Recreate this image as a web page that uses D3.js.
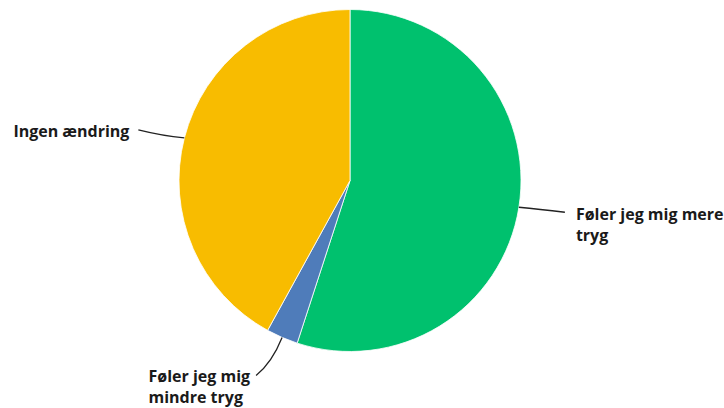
<!DOCTYPE html>
<html><head><meta charset="utf-8">
<script src="https://cdn.jsdelivr.net/npm/d3@7"></script>
<style>body{margin:0;background:#fff}text{font-family:"Open Sans",sans-serif;font-weight:700;fill:#1a1a1a}</style>
</head><body>
<svg id="c" width="724" height="408"></svg>
<script>
const categories = ["Føler jeg mig mere tryg", "Føler jeg mig mindre tryg", "Ingen ændring"];
const values = [55, 3, 42];
const colors = ["#00c16e", "#4f7cba", "#f8bc00"];
const labelLines = [["Føler jeg mig mere", "tryg"], ["Føler jeg mig", "mindre tryg"], ["Ingen ændring"]];

const svg = d3.select("#c");
const cx = 350, cy = 180.5, r = 171;
const g = svg.append("g").attr("transform", `translate(${cx},${cy})`);
const pie = d3.pie().sort(null).value(d => d)(values);
const arc = d3.arc().innerRadius(0).outerRadius(r);
g.selectAll("path.s").data(pie).join("path").attr("class","s")
  .attr("d", arc).attr("fill", (d,i) => colors[i]).attr("stroke","#fff").attr("stroke-width",0.8);

// label placement (offsets relative to edge point)
const lab = [
  {dx: 46, dy: 5, tx: 57, ty: 13, anchor: "start", c1: [20, 2]},
  {dx: -26, dy: 38, tx: -32, ty: 45, anchor: "end", c1: [-10, 25]},
  {dx: -46, dy: -8, tx: -55, ty: -1, anchor: "end", c1: [-22, -2]}
];
pie.forEach((d, i) => {
  const a = (d.startAngle + d.endAngle) / 2;
  const ex = Math.sin(a) * r, ey = -Math.cos(a) * r;
  const L = lab[i];
  g.append("path")
    .attr("d", `M${ex},${ey} Q${ex + L.c1[0]},${ey + L.c1[1]} ${ex + L.dx},${ey + L.dy}`)
    .attr("fill", "none").attr("stroke", "#222").attr("stroke-width", 1.3);
  const t = g.append("text").attr("text-anchor", L.anchor).attr("font-size", 16)
    .attr("x", ex + L.tx).attr("y", ey + L.ty);
  labelLines[i].forEach((s, j) => {
    t.append("tspan").attr("x", ex + L.tx).attr("dy", j ? 21 : 0).text(s);
  });
});
// left-align multi-line labels at their left edge when anchored end
g.selectAll("text").each(function() {
  const el = d3.select(this);
  if (el.attr("text-anchor") === "end") {
    const bb = this.getBBox();
    el.attr("text-anchor", "start");
    el.selectAll("tspan").attr("x", bb.x);
  }
});
</script>
</body></html>
